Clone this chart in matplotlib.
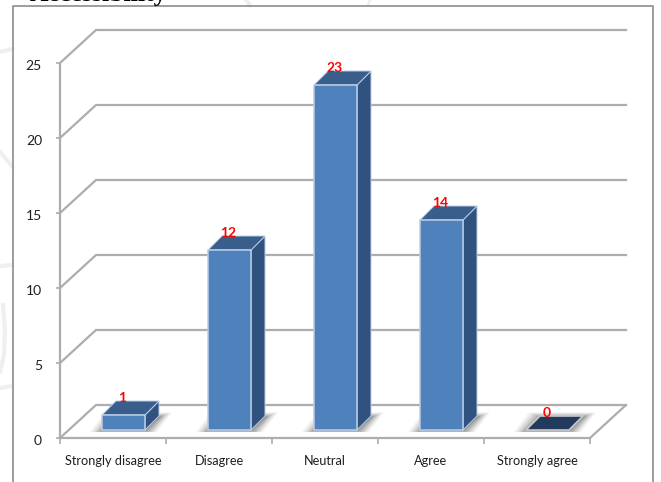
import matplotlib
matplotlib.use("Agg")
import matplotlib.pyplot as plt
from matplotlib.patches import Polygon, Rectangle
from matplotlib.lines import Line2D
from matplotlib.transforms import ScaledTranslation

categories = ["Strongly disagree", "Disagree", "Neutral", "Agree", "Strongly agree"]
responses = [1, 12, 23, 14, 0]
y_ticks = [0, 5, 10, 15, 20, 25]

W, H = 661, 482
PX_X = 106.0    # pixels per category
PX_Y = 15.0     # pixels per response
WALL_DX, WALL_DY = 36 / PX_X, 33 / PX_Y
BAR_W = 43 / PX_X
BAR_DX, BAR_DY = 14 / PX_X, 14 / PX_Y
SHIFT_X, SHIFT_Y = 10.5 / PX_X, 8 / PX_Y

GRID = "#adadad"
FRONT, SIDE, TOP, EDGE = "#4f81bd", "#30527f", "#3a5e8c", "#b9cde5"
ZERO_FACE = "#213a5e"
TEXT = "#1f1f1f"
FAINT = "#efefef"

fig = plt.figure(figsize=(W / 100, H / 100), dpi=100)
fig.patch.set_facecolor("white")
ax = fig.add_axes([60 / W, (H - 438) / H, 530 / W, 375 / H])
ax.set_xlim(0, 5)
ax.set_ylim(0, 25)
ax.patch.set_visible(False)


def page_line(xs, ys, **kw):
    fig.add_artist(Line2D([x / W for x in xs], [1 - y / H for y in ys], **kw))


# Pale page ornaments in the margin beside the chart
page_line([0, 12], [52, 49], color=FAINT, lw=3)
page_line([0, 12], [152, 166], color=FAINT, lw=3)
page_line([0, 12], [266, 265], color=FAINT, lw=3)
page_line([3, 5, 4, 0], [305, 330, 355, 372], color=FAINT, lw=3)
page_line([0, 12], [388, 386], color=FAINT, lw=3)
page_line([246, 250], [0, 5], color=FAINT, lw=3)
page_line([370, 368], [0, 5], color=FAINT, lw=2)

# Outer frame of the chart area
page_line([13, 13, 653, 653], [482, 6, 6, 482], color="#8c8c8c", lw=1.2)

# Heading running off the top edge
fig.text(30 / W, 1 - 1.5 / H, "Accessibility", family="Liberation Serif",
         weight="bold", fontsize=18.5, color="black", va="baseline", ha="left")

# Back-wall gridlines with their diagonal returns to the left wall
for v in y_ticks:
    ax.plot([0, WALL_DX, 5 + WALL_DX], [v, v + WALL_DY, v + WALL_DY],
            color=GRID, lw=1.6, clip_on=False, zorder=1, solid_joinstyle="miter")
ax.plot([5, 5 + WALL_DX], [0, WALL_DY], color=GRID, lw=1.6, clip_on=False, zorder=1)


# Soft floor shadows, darkest next to the column and fading outward
def shadow(i):
    x0 = i + 0.5 + SHIFT_X - BAR_W / 2
    rise = 13 / PX_Y
    run = 15 / PX_X
    for grow, alpha in ((12, .05), (10, .07), (8, .08), (6, .1), (4, .12), (2, .15), (0, .2)):
        gx = grow / PX_X
        up = grow * .4 / PX_Y
        down = min(grow, 4) * .5 / PX_Y
        pts = [(x0 - gx, SHIFT_Y - down), (x0 + BAR_W + gx, SHIFT_Y - down),
               (x0 + BAR_W + run + gx, SHIFT_Y + rise + up),
               (x0 + run - gx, SHIFT_Y + rise + up)]
        ax.add_patch(Polygon(pts, closed=True, fc="#303030", ec="none", alpha=alpha,
                             zorder=2, clip_on=False))


# Extruded columns
def column(i, v):
    x0 = i + 0.5 + SHIFT_X - BAR_W / 2
    x1 = x0 + BAR_W
    y0 = SHIFT_Y
    y1 = y0 + v
    dx, dy = BAR_DX, BAR_DY
    if v == 0:
        pts = [(x0, y0), (x1, y0), (x1 + dx, y0 + dy), (x0 + dx, y0 + dy)]
        ax.add_patch(Polygon(pts, closed=True, fc=ZERO_FACE, ec="#c9c9c9", lw=1.2,
                             zorder=3, clip_on=False))
    else:
        ax.add_patch(Polygon([(x1, y0), (x1 + dx, y0 + dy), (x1 + dx, y1 + dy), (x1, y1)],
                             closed=True, fc=SIDE, ec=EDGE, lw=.7, zorder=3, clip_on=False))
        ax.add_patch(Polygon([(x0, y1), (x1, y1), (x1 + dx, y1 + dy), (x0 + dx, y1 + dy)],
                             closed=True, fc=TOP, ec=EDGE, lw=.7, zorder=3, clip_on=False))
        ax.add_patch(Rectangle((x0, y0), BAR_W, v, fc=FRONT, ec=EDGE, lw=1.1,
                               zorder=4, clip_on=False))
    ax.text(i + 0.5 + SHIFT_X - 1 / PX_X, y1 + 17.0 / PX_Y, str(v), color="#ff0000",
            family="Lato", weight="bold", fontsize=10, ha="center", va="center",
            zorder=6, clip_on=False)


for i, v in enumerate(responses):
    shadow(i)
for i, v in enumerate(responses):
    column(i, v)

# Axes, ticks and labels
for s in ("top", "right"):
    ax.spines[s].set_visible(False)
for s in ("left", "bottom"):
    ax.spines[s].set_color(GRID)
    ax.spines[s].set_linewidth(1.6)
    ax.spines[s].set_zorder(2)
ax.set_yticks(y_ticks)
ax.set_yticklabels([str(v) for v in y_ticks], family="Lato", fontsize=10, color=TEXT)
ax.tick_params(axis="y", length=3, width=1.2, color=GRID, pad=10)
nudge = ScaledTranslation(0, -2 / 100, fig.dpi_scale_trans)
for lab in ax.get_yticklabels():
    lab.set_transform(lab.get_transform() + nudge)
ax.set_xticks([i + 0.5 for i in range(5)])
ax.set_xticklabels(categories, family="Lato", fontsize=9.2, color=TEXT)
ax.tick_params(axis="x", which="major", length=0, pad=12)
ax.set_xticks(range(6), minor=True)
ax.tick_params(axis="x", which="minor", length=4, width=1.2, color=GRID)

fig.savefig("out.png", dpi=100)
